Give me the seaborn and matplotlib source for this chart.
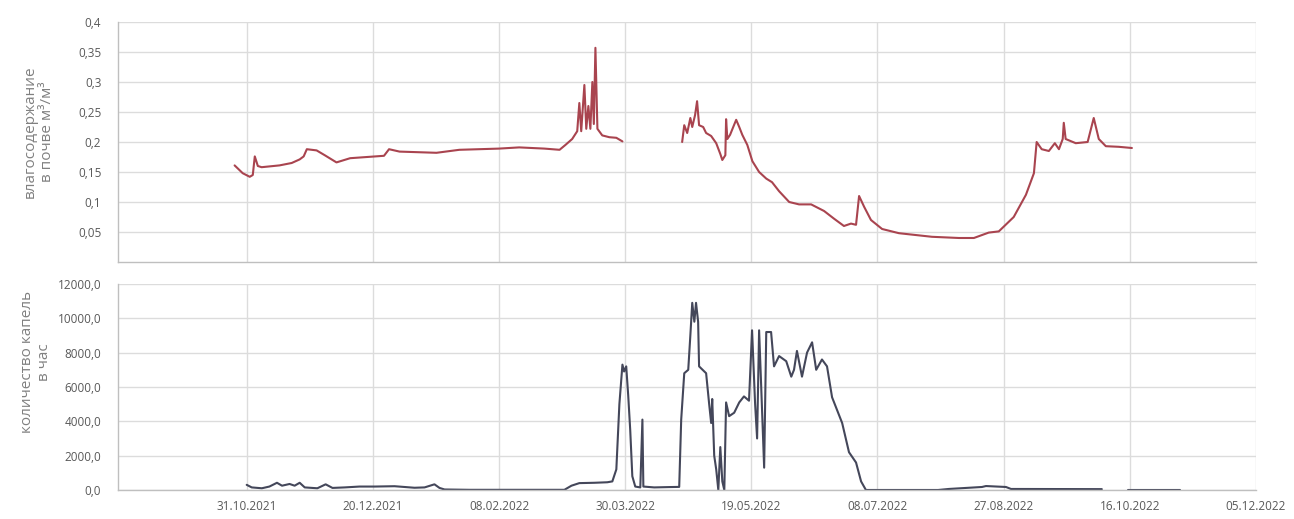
import numpy as np
import pandas as pd
import matplotlib.pyplot as plt
import matplotlib.dates as mdates
from matplotlib.ticker import FuncFormatter
import seaborn as sns


# -------------------------------
# Data
# -------------------------------

# soil moisture, m3/m3 (None = no data)
moisture_dates = [
    "2021-10-26 05:00", "2021-10-29 10:00", "2021-11-01 05:00", "2021-11-02 10:00",
    "2021-11-03 05:00", "2021-11-04 10:00", "2021-11-05 22:00", "2021-11-13 00:00",
    "2021-11-17 20:00", "2021-11-21 00:00", "2021-11-22 14:00", "2021-11-23 20:00",
    "2021-11-27 17:00", "2021-11-30 22:00", "2021-12-05 14:00", "2021-12-11 00:00",
    "2021-12-17 17:00", "2021-12-24 10:00", "2021-12-26 10:00", "2021-12-30 14:00",
    "2022-01-14 05:00", "2022-01-23 07:00", "2022-02-08 00:00", "2022-02-16 00:00",
    "2022-02-26 00:00", "2022-03-04 00:00", "2022-03-06 07:00", "2022-03-09 00:00",
    "2022-03-11 00:00", "2022-03-11 20:00", "2022-03-12 14:00", "2022-03-13 20:00",
    "2022-03-14 14:00", "2022-03-15 10:00", "2022-03-16 05:00", "2022-03-17 00:00",
    "2022-03-17 14:00", "2022-03-18 05:00", "2022-03-19 00:00", "2022-03-20 22:00",
    "2022-03-23 17:00", "2022-03-26 12:00", "2022-03-28 22:00", "2022-04-10 00:00",
    "2022-04-21 14:00", "2022-04-22 10:00", "2022-04-23 14:00", "2022-04-24 20:00",
    "2022-04-25 14:00", "2022-04-26 17:00", "2022-04-27 12:00", "2022-04-28 07:00",
    "2022-04-29 22:00", "2022-05-01 02:00", "2022-05-03 02:00", "2022-05-05 02:00",
    "2022-05-06 17:00", "2022-05-07 12:00", "2022-05-08 17:00", "2022-05-09 00:00",
    "2022-05-09 12:00", "2022-05-10 14:00", "2022-05-11 20:00", "2022-05-13 00:00",
    "2022-05-14 05:00", "2022-05-15 10:00", "2022-05-17 10:00", "2022-05-19 10:00",
    "2022-05-22 02:00", "2022-05-24 22:00", "2022-05-27 05:00", "2022-05-30 00:00",
    "2022-06-03 00:00", "2022-06-06 22:00", "2022-06-11 17:00", "2022-06-16 20:00",
    "2022-06-20 20:00", "2022-06-24 17:00", "2022-06-27 12:00", "2022-06-29 12:00",
    "2022-06-30 17:00", "2022-07-02 17:00", "2022-07-05 10:00", "2022-07-09 20:00",
    "2022-07-16 12:00", "2022-07-29 14:00", "2022-08-09 07:00", "2022-08-15 05:00",
    "2022-08-21 02:00", "2022-08-25 02:00", "2022-08-31 00:00", "2022-09-04 20:00",
    "2022-09-08 00:00", "2022-09-09 02:00", "2022-09-11 02:00", "2022-09-13 22:00",
    "2022-09-16 07:00", "2022-09-17 22:00", "2022-09-19 10:00", "2022-09-19 20:00",
    "2022-09-20 14:00", "2022-09-24 14:00", "2022-09-29 07:00", "2022-10-01 17:00",
    "2022-10-03 17:00", "2022-10-06 12:00", "2022-10-11 14:00", "2022-10-16 20:00",
]
moisture_values = [
    0.161, 0.148, 0.142, 0.145,
    0.176, 0.160, 0.158, 0.161,
    0.165, 0.171, 0.176, 0.188,
    0.186, 0.178, 0.166, 0.173,
    0.175, 0.177, 0.188, 0.184,
    0.182, 0.187, 0.189, 0.191,
    0.189, 0.187, 0.195, 0.205,
    0.218, 0.265, 0.218, 0.295,
    0.222, 0.260, 0.222, 0.300,
    0.230, 0.357, 0.222, 0.211,
    0.208, 0.207, 0.201, None,
    0.200, 0.228, 0.215, 0.240,
    0.225, 0.245, 0.268, 0.228,
    0.225, 0.215, 0.210, 0.198,
    0.180, 0.170, 0.178, 0.238,
    0.205, 0.212, 0.225, 0.237,
    0.225, 0.212, 0.195, 0.168,
    0.150, 0.139, 0.133, 0.118,
    0.100, 0.096, 0.096, 0.085,
    0.072, 0.060, 0.064, 0.062,
    0.110, 0.092, 0.070, 0.055,
    0.048, 0.042, 0.040, 0.040,
    0.049, 0.051, 0.075, 0.112,
    0.148, 0.200, 0.188, 0.185,
    0.198, 0.188, 0.205, 0.232,
    0.205, 0.198, 0.200, 0.240,
    0.205, 0.193, 0.192, 0.190,
]

# drops per hour (None = no data)
drops_dates = [
    "2021-10-31 00:00", "2021-11-02 00:00", "2021-11-06 00:00", "2021-11-09 00:00",
    "2021-11-12 00:00", "2021-11-14 00:00", "2021-11-17 00:00", "2021-11-19 00:00",
    "2021-11-21 00:00", "2021-11-23 00:00", "2021-11-28 00:00", "2021-12-01 07:00",
    "2021-12-04 00:00", "2021-12-08 20:00", "2021-12-14 17:00", "2021-12-20 17:00",
    "2021-12-28 14:00", "2022-01-05 12:00", "2022-01-09 12:00", "2022-01-13 10:00",
    "2022-01-15 10:00", "2022-01-17 10:00", "2022-01-27 07:00", "2022-02-16 00:00",
    "2022-03-05 22:00", "2022-03-08 17:00", "2022-03-11 20:00", "2022-03-17 20:00",
    "2022-03-22 22:00", "2022-03-24 22:00", "2022-03-26 12:00", "2022-03-27 17:00",
    "2022-03-28 22:00", "2022-03-29 14:00", "2022-03-30 10:00", "2022-03-31 05:00",
    "2022-04-01 00:00", "2022-04-01 20:00", "2022-04-03 00:00", "2022-04-05 00:00",
    "2022-04-05 20:00", "2022-04-06 05:00", "2022-04-10 12:00", "2022-04-16 12:00",
    "2022-04-20 10:00", "2022-04-21 05:00", "2022-04-22 10:00", "2022-04-24 00:00",
    "2022-04-24 20:00", "2022-04-25 14:00", "2022-04-26 10:00", "2022-04-27 02:00",
    "2022-04-27 22:00", "2022-04-28 07:00", "2022-05-01 02:00", "2022-05-02 07:00",
    "2022-05-03 02:00", "2022-05-03 12:00", "2022-05-04 07:00", "2022-05-05 02:00",
    "2022-05-05 22:00", "2022-05-06 17:00", "2022-05-07 12:00", "2022-05-08 07:00",
    "2022-05-09 00:00", "2022-05-10 05:00", "2022-05-12 05:00", "2022-05-14 05:00",
    "2022-05-16 02:00", "2022-05-18 02:00", "2022-05-19 07:00", "2022-05-20 12:00",
    "2022-05-21 07:00", "2022-05-22 02:00", "2022-05-22 22:00", "2022-05-24 02:00",
    "2022-05-24 22:00", "2022-05-26 20:00", "2022-05-28 00:00", "2022-05-30 00:00",
    "2022-06-01 20:00", "2022-06-03 20:00", "2022-06-04 22:00", "2022-06-06 02:00",
    "2022-06-08 02:00", "2022-06-10 02:00", "2022-06-12 02:00", "2022-06-13 17:00",
    "2022-06-16 00:00", "2022-06-18 00:00", "2022-06-20 00:00", "2022-06-24 00:00",
    "2022-06-26 17:00", "2022-06-29 12:00", "2022-07-01 12:00", "2022-07-03 10:00",
    "2022-08-01 00:00", "2022-08-05 07:00", "2022-08-18 10:00", "2022-08-20 00:00",
    "2022-08-27 22:00", "2022-08-29 22:00", "2022-10-04 22:00", "2022-10-10 00:00",
    "2022-10-15 05:00", "2022-11-05 00:00",
]
drops_values = [
    300, 150, 100, 200,
    420, 250, 350, 250,
    420, 150, 100, 330,
    120, 150, 200, 200,
    220, 130, 150, 330,
    120, 30, 10, 10,
    10, 250, 400, 420,
    450, 500, 1200, 5000,
    7300, 6900, 7200, 5500,
    3500, 800, 200, 150,
    4100, 200, 150, 170,
    180, 4100, 6800, 7000,
    9000, 10900, 9800, 10900,
    9800, 7200, 6800, 5000,
    3900, 5300, 2000, 1200,
    0, 2500, 500, 0,
    5100, 4300, 4500, 5100,
    5450, 5200, 9300, 5000,
    3000, 9300, 6000, 1300,
    9200, 9200, 7200, 7800,
    7500, 6600, 7000, 8100,
    6600, 8000, 8600, 7000,
    7600, 7200, 5400, 3900,
    2200, 1600, 500, 0,
    0, 60, 175, 230,
    175, 60, 50, None,
    20, 20,
]

x_ticks = [
    "2021-10-31", "2021-12-20", "2022-02-08", "2022-03-30", "2022-05-19",
    "2022-07-08", "2022-08-27", "2022-10-16", "2022-12-05",
]
x_start = "2021-09-10"
x_end = "2022-12-05"

moisture_label = "влагосодержание\nв почве м³/м³"
drops_label = "количество капель\nв час"


def to_frame(dates, values):
    df = pd.DataFrame({"date": pd.to_datetime(dates), "value": values}, dtype=object)
    df["date"] = pd.to_datetime(df["date"])
    df["value"] = pd.to_numeric(df["value"])
    # break the line where data is missing
    df["segment"] = df["value"].isna().cumsum()
    return df.dropna()


moisture_df = to_frame(moisture_dates, moisture_values)
drops_df = to_frame(drops_dates, drops_values)


# -------------------------------
# Style
# -------------------------------

sns.set_theme(style="whitegrid")
plt.rcParams["font.family"] = ["Open Sans", "DejaVu Sans"]

grid_color = "#dcdcdc"
text_color = "#595959"

fig = plt.figure(figsize=(12.94, 5.19), dpi=100)
ax_top = fig.add_axes([0.0912, 0.4952, 0.8794, 0.4624])
ax_bot = fig.add_axes([0.0912, 0.0559, 0.8794, 0.3970])


# -------------------------------
# Plots
# -------------------------------

sns.lineplot(
    data=moisture_df,
    x="date",
    y="value",
    units="segment",
    estimator=None,
    color="#a9444f",
    linewidth=1.5,
    ax=ax_top
)

sns.lineplot(
    data=drops_df,
    x="date",
    y="value",
    units="segment",
    estimator=None,
    color="#44475a",
    linewidth=1.5,
    ax=ax_bot
)

tick_dates = pd.to_datetime(x_ticks)

for ax in (ax_top, ax_bot):
    ax.set_xlim(pd.Timestamp(x_start), pd.Timestamp(x_end))
    ax.set_xticks(tick_dates)
    ax.xaxis.set_major_formatter(mdates.DateFormatter("%d.%m.%Y"))
    ax.grid(True, color=grid_color, linewidth=1.0)
    ax.tick_params(length=0, colors=text_color, labelsize=8.5)
    ax.tick_params(axis="y", pad=12)
    ax.tick_params(axis="x", pad=7)
    for side in ("top", "right"):
        ax.spines[side].set_visible(False)
    for side in ("left", "bottom"):
        ax.spines[side].set_color("#bfbfbf")
        ax.spines[side].set_linewidth(1.0)
    ax.set_xlabel("")

ax_top.tick_params(axis="x", labelbottom=False)

ax_top.set_ylim(0, 0.4)
ax_top.set_yticks([0.05, 0.1, 0.15, 0.2, 0.25, 0.3, 0.35, 0.4])
ax_top.yaxis.set_major_formatter(
    FuncFormatter(lambda v, p: f"{v:g}".replace(".", ","))
)

ax_bot.set_ylim(0, 12000)
ax_bot.set_yticks([0, 2000, 4000, 6000, 8000, 10000, 12000])
ax_bot.yaxis.set_major_formatter(
    FuncFormatter(lambda v, p: f"{v:.1f}".replace(".", ","))
)

ax_top.set_ylabel(moisture_label, color="#808080", fontsize=11)
ax_top.yaxis.set_label_coords(-0.055, 0.545)
ax_bot.set_ylabel(drops_label, color="#808080", fontsize=11)
ax_bot.yaxis.set_label_coords(-0.058, 0.62)

plt.savefig("out.png", dpi=100)
plt.close()
